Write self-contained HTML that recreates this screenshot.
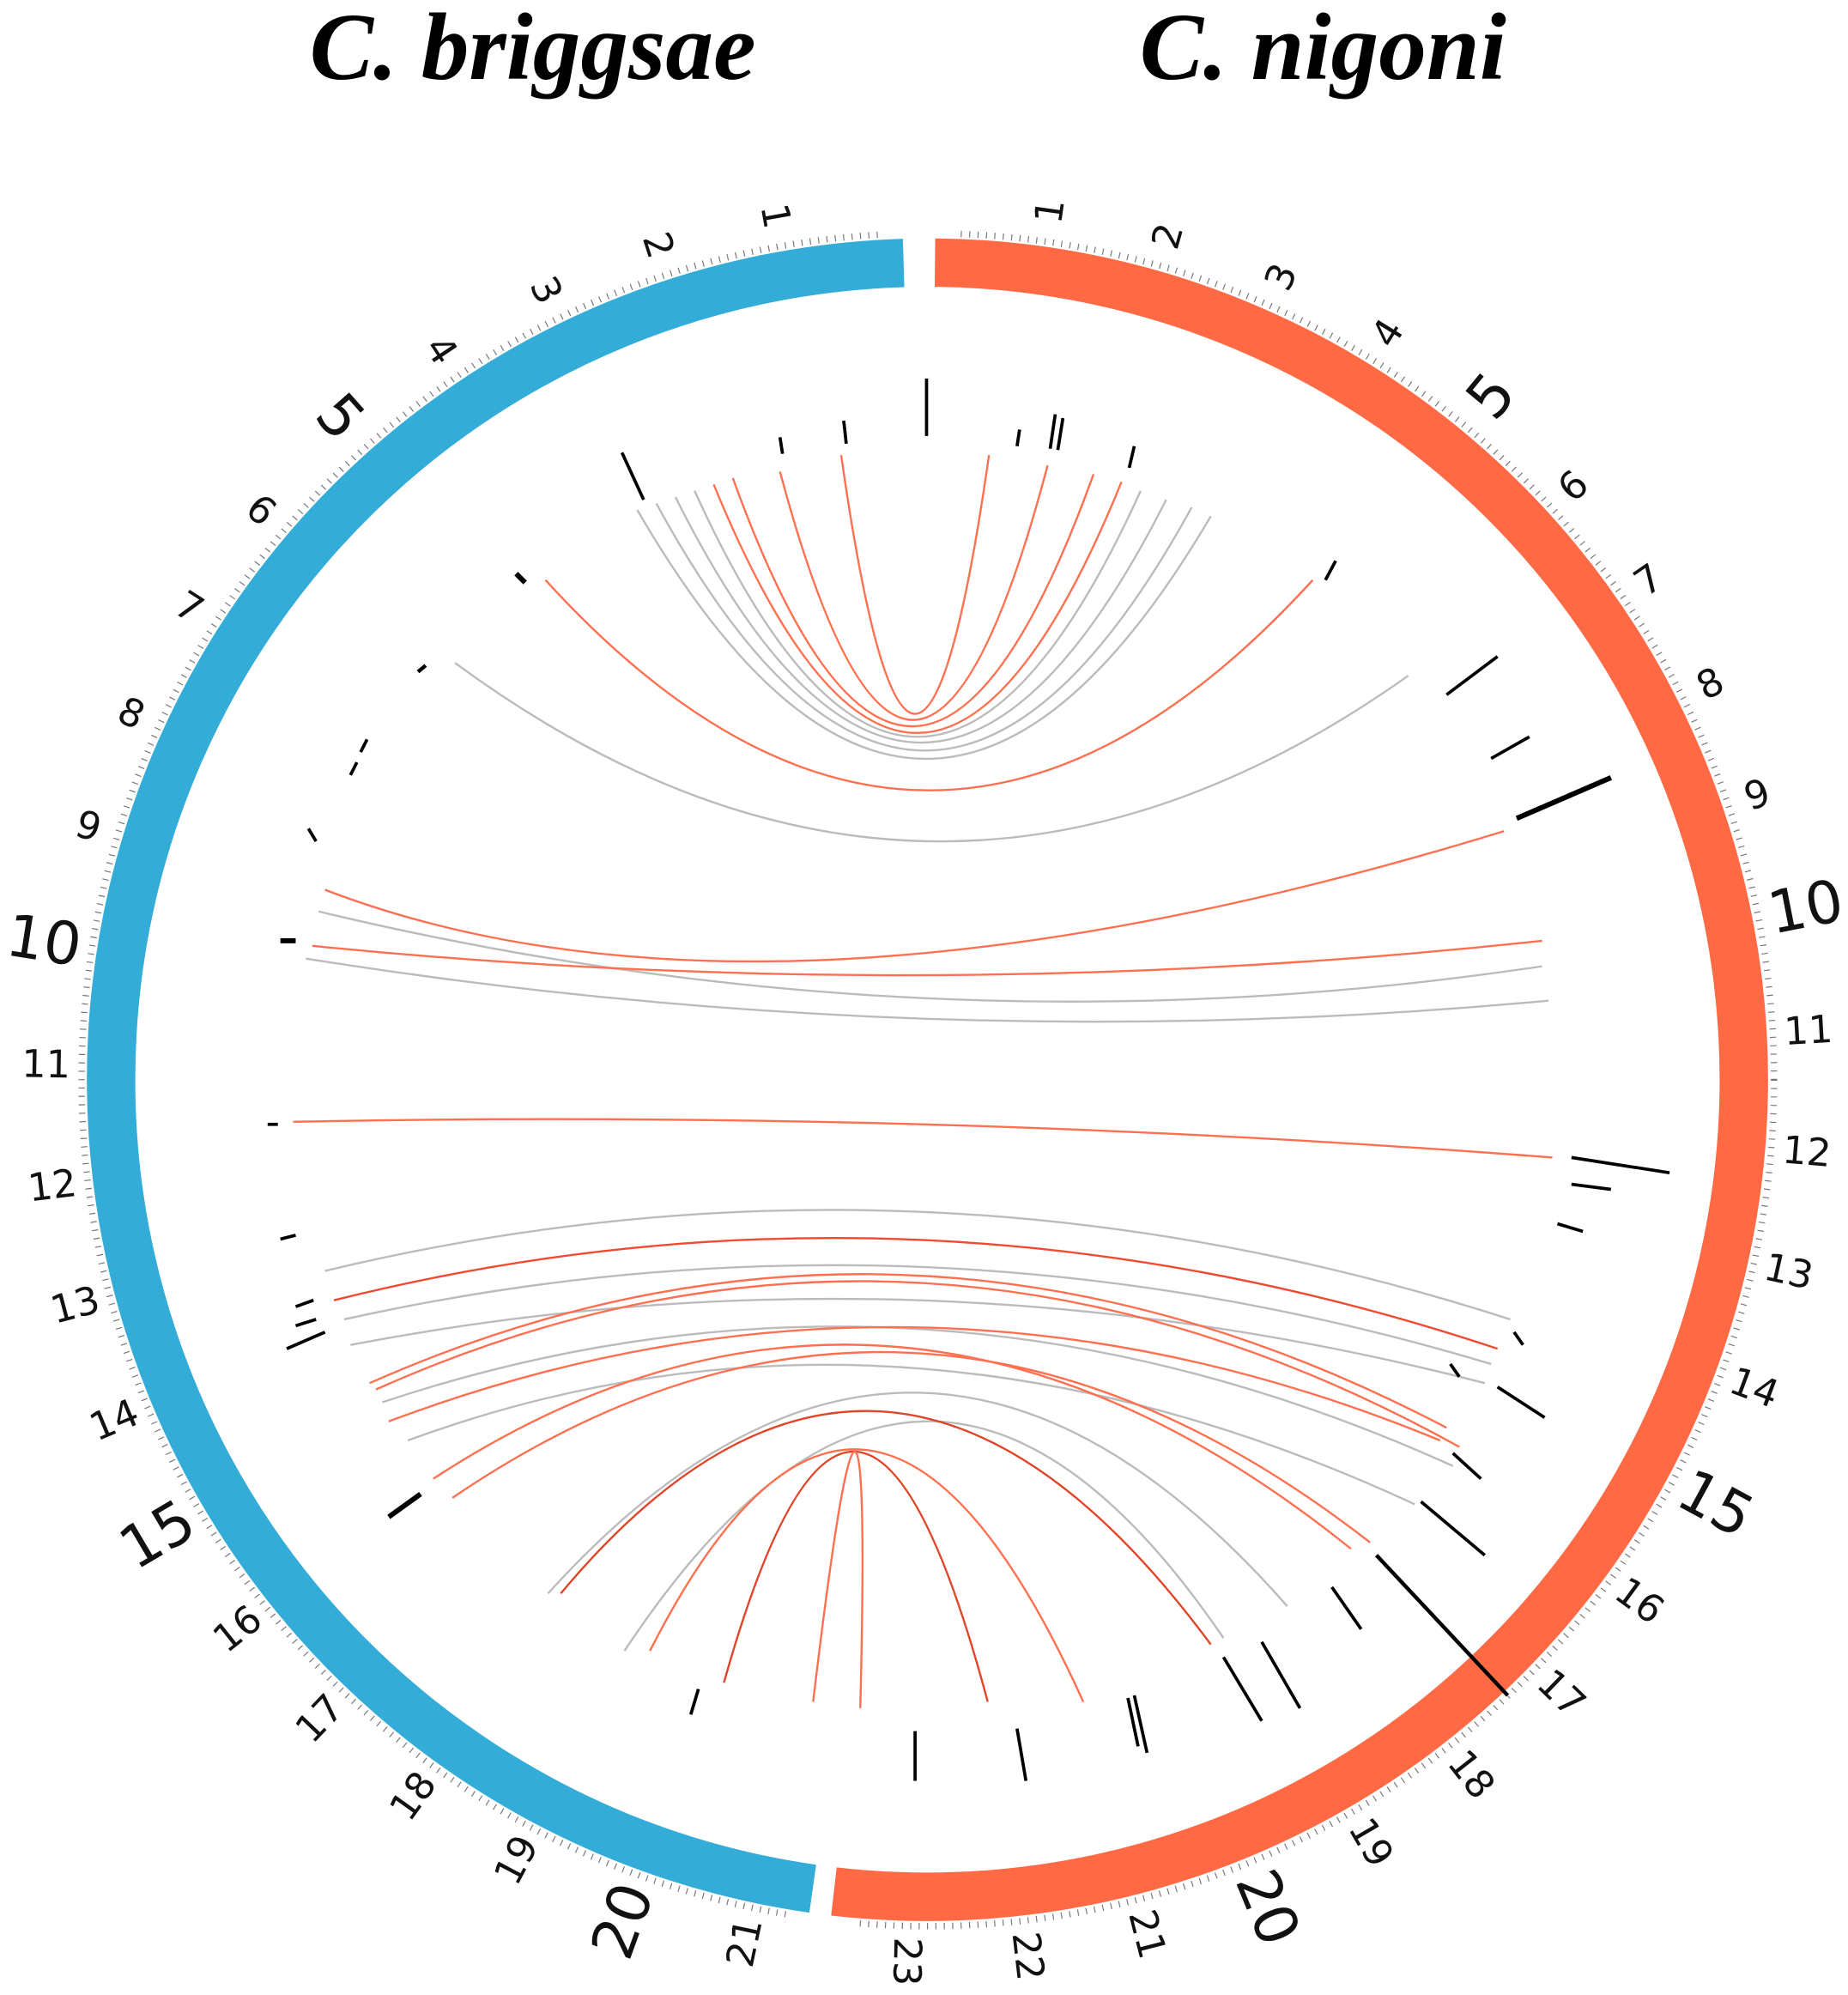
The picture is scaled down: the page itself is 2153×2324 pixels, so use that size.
<!DOCTYPE html>
<html><head><meta charset="utf-8"><style>
html,body{margin:0;padding:0;background:#fff;}
svg{display:block;}
.l{font-family:"DejaVu Sans","Liberation Sans",sans-serif;font-size:30px;fill:#111;text-anchor:middle;dominant-baseline:central;}
.b{font-size:46px;}
</style></head><body>
<svg width="2153" height="2324" viewBox="0 0 1450 1565" preserveAspectRatio="none" xmlns="http://www.w3.org/2000/svg">
<rect width="1450" height="1565" fill="#fff"/>
<text x="418" y="62" font-family="Liberation Serif, serif" font-style="italic" font-weight="bold" font-size="75" text-anchor="middle" fill="#000">C. briggsae</text>
<text x="1038" y="62" font-family="Liberation Serif, serif" font-style="italic" font-weight="bold" font-size="75" text-anchor="middle" fill="#000">C. nigoni</text>

<circle cx="728" cy="847" r="664" fill="none" stroke="#777" stroke-width="5" stroke-dasharray="0.8 5.8"/>
<rect x="690" y="170" width="60" height="30" fill="#fff"/>
<rect x="620" y="1490" width="50" height="30" fill="#fff"/>
<path d="M709,206.3 A641,641 0 0 0 637.7,1481.6" fill="none" stroke="#33acd7" stroke-width="38"/>
<path d="M733.6,206 A641,641 0 1 1 654.3,1483.8" fill="none" stroke="#ff6a45" stroke-width="38"/>

<g transform="translate(728,847)">
<g transform="rotate(350)"><text class="l" transform="translate(0,-688) rotate(90)">1</text></g>
<g transform="rotate(342.1)"><text class="l" transform="translate(0,-688) rotate(90)">2</text></g>
<g transform="rotate(334.2)"><text class="l" transform="translate(0,-688) rotate(90)">3</text></g>
<g transform="rotate(326.3)"><text class="l" transform="translate(0,-688) rotate(90)">4</text></g>
<g transform="rotate(318.4)"><text class="l b" transform="translate(0,-695) rotate(90)">5</text></g>
<g transform="rotate(310.5)"><text class="l" transform="translate(0,-688) rotate(90)">6</text></g>
<g transform="rotate(302.6)"><text class="l" transform="translate(0,-688) rotate(90)">7</text></g>
<g transform="rotate(294.7)"><text class="l" transform="translate(0,-688) rotate(90)">8</text></g>
<g transform="rotate(286.8)"><text class="l" transform="translate(0,-688) rotate(90)">9</text></g>
<g transform="rotate(278.9)"><text class="l b" transform="translate(0,-702) rotate(90)">10</text></g>
<g transform="rotate(271)"><text class="l" transform="translate(0,-692) rotate(90)">11</text></g>
<g transform="rotate(263.1)"><text class="l" transform="translate(0,-692) rotate(90)">12</text></g>
<g transform="rotate(255.2)"><text class="l" transform="translate(0,-692) rotate(90)">13</text></g>
<g transform="rotate(247.3)"><text class="l" transform="translate(0,-692) rotate(90)">14</text></g>
<g transform="rotate(239.4)"><text class="l b" transform="translate(0,-702) rotate(90)">15</text></g>
<g transform="rotate(231.5)"><text class="l" transform="translate(0,-692) rotate(90)">16</text></g>
<g transform="rotate(223.6)"><text class="l" transform="translate(0,-692) rotate(90)">17</text></g>
<g transform="rotate(215.7)"><text class="l" transform="translate(0,-692) rotate(90)">18</text></g>
<g transform="rotate(207.8)"><text class="l" transform="translate(0,-692) rotate(90)">19</text></g>
<g transform="rotate(199.9)"><text class="l b" transform="translate(0,-702) rotate(90)">20</text></g>
<g transform="rotate(192)"><text class="l" transform="translate(0,-692) rotate(90)">21</text></g>
<g transform="rotate(8)"><text class="l" transform="translate(0,-688) rotate(-90)">1</text></g>
<g transform="rotate(15.88)"><text class="l" transform="translate(0,-688) rotate(-90)">2</text></g>
<g transform="rotate(23.76)"><text class="l" transform="translate(0,-688) rotate(-90)">3</text></g>
<g transform="rotate(31.64)"><text class="l" transform="translate(0,-688) rotate(-90)">4</text></g>
<g transform="rotate(39.52)"><text class="l b" transform="translate(0,-695) rotate(-90)">5</text></g>
<g transform="rotate(47.4)"><text class="l" transform="translate(0,-688) rotate(-90)">6</text></g>
<g transform="rotate(55.28)"><text class="l" transform="translate(0,-688) rotate(-90)">7</text></g>
<g transform="rotate(63.16)"><text class="l" transform="translate(0,-688) rotate(-90)">8</text></g>
<g transform="rotate(71.04)"><text class="l" transform="translate(0,-688) rotate(-90)">9</text></g>
<g transform="rotate(78.92)"><text class="l b" transform="translate(0,-702) rotate(-90)">10</text></g>
<g transform="rotate(86.8)"><text class="l" transform="translate(0,-692) rotate(-90)">11</text></g>
<g transform="rotate(94.68)"><text class="l" transform="translate(0,-692) rotate(-90)">12</text></g>
<g transform="rotate(102.56)"><text class="l" transform="translate(0,-692) rotate(-90)">13</text></g>
<g transform="rotate(110.44)"><text class="l" transform="translate(0,-692) rotate(-90)">14</text></g>
<g transform="rotate(118.32)"><text class="l b" transform="translate(0,-702) rotate(-90)">15</text></g>
<g transform="rotate(126.2)"><text class="l" transform="translate(0,-692) rotate(-90)">16</text></g>
<g transform="rotate(134.08)"><text class="l" transform="translate(0,-692) rotate(-90)">17</text></g>
<g transform="rotate(141.96)"><text class="l" transform="translate(0,-692) rotate(-90)">18</text></g>
<g transform="rotate(149.84)"><text class="l" transform="translate(0,-692) rotate(-90)">19</text></g>
<g transform="rotate(157.72)"><text class="l b" transform="translate(0,-702) rotate(-90)">20</text></g>
<g transform="rotate(165.6)"><text class="l" transform="translate(0,-692) rotate(-90)">21</text></g>
<g transform="rotate(173.48)"><text class="l" transform="translate(0,-692) rotate(-90)">22</text></g>
<g transform="rotate(181.36)"><text class="l" transform="translate(0,-692) rotate(-90)">23</text></g>
</g>

<g fill="none" stroke-width="1.6">
<g stroke="#bbb">
<path d="M545,385 Q720,771 895,385"/>
<path d="M530,390 Q722,774 915,392"/>
<path d="M515,395 Q725,781 935,398"/>
<path d="M500,400 Q725,788 950,405"/>
<path d="M357,520 Q731,795 1105,530"/>
<path d="M250,715 Q730,830 1210,758"/>
<path d="M240,752 Q730,830 1215,785"/>
<path d="M255,997 Q720,885 1185,1035"/>
<path d="M270,1035 Q720,935 1170,1070"/>
<path d="M275,1055 Q720,970 1165,1085"/>
<path d="M300,1100 Q720,960 1140,1150"/>
<path d="M320,1130 Q700,990 1110,1180"/>
<path d="M430,1250 Q720,930 1010,1260"/>
<path d="M490,1295 Q725,940 960,1285"/>
</g>
<g stroke="#ff7050">
<path d="M660,357 Q718,763 776,357"/>
<path d="M612,370 Q717,762 822,365"/>
<path d="M575,375 Q716,766 858,372"/>
<path d="M560,380 Q720,771 880,378"/>
<path d="M428,455 Q729,785 1030,455"/>
<path d="M255,698 Q600,830 1180,652"/>
<path d="M245,742 Q728,790 1210,738"/>
<path d="M230,880 Q724,870 1218,908"/>
<path d="M262,1020 Q718,906 1175,1058" stroke="#f04a30"/>
<path d="M290,1085 Q712,898 1135,1120"/>
<path d="M295,1090 Q720,900 1145,1135"/>
<path d="M305,1115 Q718,960 1130,1130"/>
<path d="M340,1160 Q700,925 1060,1215"/>
<path d="M355,1175 Q715,930 1075,1210"/>
<path d="M440,1250 Q695,945 950,1290" stroke="#e04528"/>
<path d="M510,1295 Q680,960 850,1335"/>
<path d="M568,1320 Q672,950 775,1335" stroke="#e04528"/>
<path d="M638,1335 Q685,940 675,1340"/>
</g>
</g>

<g stroke="#000" stroke-width="2.5" stroke-linecap="butt">
<line x1="727" y1="297" x2="727" y2="342"/>
<line x1="488" y1="355" x2="505" y2="392"/>
<line x1="662" y1="330" x2="664" y2="348"/>
<line x1="612" y1="343" x2="614" y2="356"/>
<line x1="828" y1="325" x2="824" y2="352"/>
<line x1="834" y1="328" x2="830" y2="353"/>
<line x1="890" y1="350" x2="886" y2="367"/>
<line x1="800" y1="337" x2="798" y2="350"/>
<line x1="1048" y1="440" x2="1040" y2="455"/>
<line x1="1175" y1="515" x2="1135" y2="545"/>
<line x1="1200" y1="578" x2="1170" y2="595"/>
<line x1="1264" y1="610" x2="1190" y2="642" stroke-width="4"/>
<line x1="1310" y1="920" x2="1233" y2="908"/>
<line x1="1264" y1="933" x2="1233" y2="929"/>
<line x1="1242" y1="966" x2="1222" y2="960"/>
<line x1="1212" y1="1112" x2="1175" y2="1088"/>
<line x1="1165" y1="1220" x2="1115" y2="1178"/>
<line x1="1162" y1="1160" x2="1140" y2="1140"/>
<line x1="1183" y1="1330" x2="1080" y2="1220" stroke-width="3"/>
<line x1="1068" y1="1278" x2="1045" y2="1245"/>
<line x1="1020" y1="1340" x2="990" y2="1288"/>
<line x1="990" y1="1350" x2="960" y2="1300"/>
<line x1="900" y1="1375" x2="890" y2="1330"/>
<line x1="893" y1="1370" x2="885" y2="1332"/>
<line x1="805" y1="1397" x2="798" y2="1356"/>
<line x1="718" y1="1397" x2="718" y2="1358"/>
<line x1="542" y1="1345" x2="548" y2="1325"/>
<line x1="305" y1="1190" x2="330" y2="1172" stroke-width="4"/>
<line x1="225" y1="1058" x2="255" y2="1045"/>
<line x1="232" y1="1040" x2="248" y2="1035"/>
<line x1="232" y1="1025" x2="246" y2="1020"/>
<line x1="220" y1="972" x2="232" y2="969"/>
<line x1="220" y1="738" x2="232" y2="738" stroke-width="4"/>
<line x1="210" y1="882" x2="218" y2="882"/>
<line x1="242" y1="650" x2="248" y2="660"/>
<line x1="405" y1="450" x2="412" y2="457" stroke-width="4"/>
<line x1="328" y1="527" x2="334" y2="522" stroke-width="3"/>
<line x1="275" y1="608" x2="280" y2="598"/>
<line x1="283" y1="590" x2="288" y2="580"/>
<line x1="1145" y1="1080" x2="1138" y2="1070"/>
<line x1="1195" y1="1055" x2="1188" y2="1045"/>
</g>
</svg>
</body></html>
